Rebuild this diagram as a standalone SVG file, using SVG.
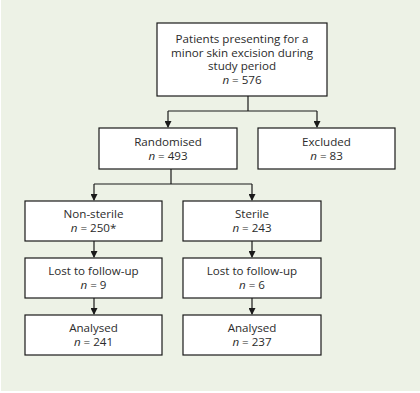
<svg xmlns="http://www.w3.org/2000/svg" width="420" height="393" viewBox="0 0 420 393">
<style>
.box{fill:#fff;stroke:#1a1a1a;stroke-width:1.2}
.t{font-family:"Open Sans","Noto Sans",sans-serif;font-size:11.6px;fill:#2b2b2b;text-anchor:middle}
.n{font-style:italic}
.c{fill:none;stroke:#1a1a1a;stroke-width:1.2}
</style>
<defs>
<marker id="ah" markerWidth="7" markerHeight="7" refX="6" refY="3.5" orient="auto" markerUnits="userSpaceOnUse">
<path d="M0,0 L7,3.5 L0,7 Z" fill="#1a1a1a"/>
</marker>
</defs>
<rect x="1" y="0" width="419" height="391" fill="#edf2e6"/>
<g id="connectors">
<path class="c" d="M248,96 V111 M168,111 H317"/>
<path class="c" d="M168,111 V127" marker-end="url(#ah)"/>
<path class="c" d="M317,111 V127" marker-end="url(#ah)"/>
<path class="c" d="M171,169 V184 M94,184 H252"/>
<path class="c" d="M94,184 V200" marker-end="url(#ah)"/>
<path class="c" d="M252,184 V200" marker-end="url(#ah)"/>
<path class="c" d="M94,241 V257" marker-end="url(#ah)"/>
<path class="c" d="M252,241 V257" marker-end="url(#ah)"/>
<path class="c" d="M94,298 V314" marker-end="url(#ah)"/>
<path class="c" d="M252,298 V314" marker-end="url(#ah)"/>
</g>
<g id="patients">
<rect class="box" x="157" y="23" width="170" height="73"/>
<text class="t" x="242" y="43">Patients presenting for a</text>
<text class="t" x="242" y="56.5">minor skin excision during</text>
<text class="t" x="242" y="70">study period</text>
<text class="t" x="242" y="83.5"><tspan class="n">n</tspan> = 576</text>
</g>
<g id="randomised">
<rect class="box" x="99" y="128" width="138" height="41"/>
<text class="t" x="168" y="146">Randomised</text>
<text class="t" x="168" y="159.5"><tspan class="n">n</tspan> = 493</text>
</g>
<g id="excluded">
<rect class="box" x="258" y="128" width="137" height="41"/>
<text class="t" x="326.5" y="146">Excluded</text>
<text class="t" x="326.5" y="159.5"><tspan class="n">n</tspan> = 83</text>
</g>
<g id="nonsterile">
<rect class="box" x="25" y="201" width="137" height="40"/>
<text class="t" x="93.5" y="218">Non-sterile</text>
<text class="t" x="93.5" y="231.5"><tspan class="n">n</tspan> = 250*</text>
</g>
<g id="sterile">
<rect class="box" x="183" y="201" width="138" height="40"/>
<text class="t" x="252" y="218">Sterile</text>
<text class="t" x="252" y="231.5"><tspan class="n">n</tspan> = 243</text>
</g>
<g id="lost-nonsterile">
<rect class="box" x="25" y="258" width="137" height="40"/>
<text class="t" x="93.5" y="275">Lost to follow-up</text>
<text class="t" x="93.5" y="288.5"><tspan class="n">n</tspan> = 9</text>
</g>
<g id="lost-sterile">
<rect class="box" x="183" y="258" width="138" height="40"/>
<text class="t" x="252" y="275">Lost to follow-up</text>
<text class="t" x="252" y="288.5"><tspan class="n">n</tspan> = 6</text>
</g>
<g id="analysed-nonsterile">
<rect class="box" x="25" y="315" width="137" height="40"/>
<text class="t" x="93.5" y="332">Analysed</text>
<text class="t" x="93.5" y="345.5"><tspan class="n">n</tspan> = 241</text>
</g>
<g id="analysed-sterile">
<rect class="box" x="183" y="315" width="138" height="40"/>
<text class="t" x="252" y="332">Analysed</text>
<text class="t" x="252" y="345.5"><tspan class="n">n</tspan> = 237</text>
</g>
</svg>
